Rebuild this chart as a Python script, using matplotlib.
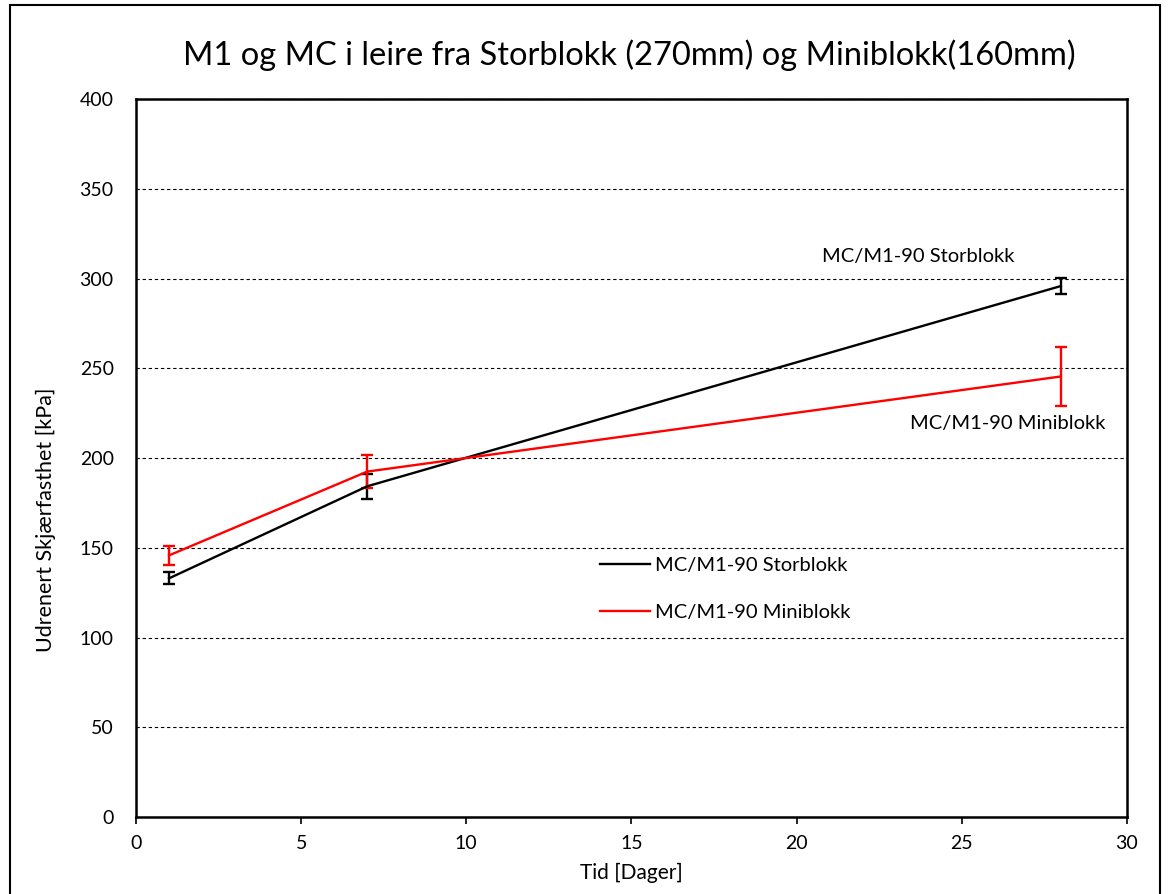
import numpy as np
import matplotlib
matplotlib.use('agg')
from matplotlib import pyplot as plt
from matplotlib.patches import Rectangle
from matplotlib.lines import Line2D

plt.rcParams['font.family'] = ['Lato', 'DejaVu Sans']

# days and undrained shear strength [kPa]
days = [1, 7, 28]
stor_mean = [133.0, 184.3, 295.9]
stor_err = [3.4, 7.1, 4.5]
mini_mean = [145.8, 192.5, 245.5]
mini_err = [5.3, 9.3, 16.5]

label_stor = "MC/M1-90 Storblokk"
label_mini = "MC/M1-90 Miniblokk"
red = '#ff0000'

fig = plt.figure(figsize=(11.69, 8.94), dpi=100)
ax = fig.add_axes([0.1163, 0.0861, 0.8477, 0.8029])

# outer chart frame
fig.patches.append(Rectangle((10 / 1169, -0.05), 1150 / 1169, 1.0 - 5 / 894 + 0.05,
                             transform=fig.transFigure, fill=False,
                             edgecolor='black', linewidth=1.5))

ax.errorbar(days, stor_mean, yerr=stor_err, color='black', lw=1.7,
            capsize=4, capthick=1.7, elinewidth=1.7, zorder=3)
ax.errorbar(days, mini_mean, yerr=mini_err, color=red, lw=1.7,
            capsize=4, capthick=1.7, elinewidth=1.7, zorder=3)

ax.set_xlim(0, 30)
ax.set_ylim(0, 400)
ax.set_xticks(np.arange(0, 31, 5))
ax.set_yticks(np.arange(0, 401, 50))
ax.tick_params(axis='x', direction='out', length=5, width=1.2, labelsize=14, pad=8)
ax.tick_params(axis='y', length=0, labelsize=14, pad=16)
for s in ax.spines.values():
    s.set_linewidth(1.8)

ax.grid(axis='y', color='black', linestyle=(0, (3, 2.5)), linewidth=0.8)
ax.set_axisbelow(True)

ax.set_xlabel("Tid [Dager]", fontsize=15, labelpad=8)
ax.set_ylabel("Udrenert Skjærfasthet [kPa]", fontsize=15.5)
ax.yaxis.set_label_coords(-0.081, 0.414)
fig.text(0.5385, 0.938, "M1 og MC i leire fra Storblokk (270mm) og Miniblokk(160mm)",
         ha='center', va='center', fontsize=23.5)

ax.text(20.77, 312.5, label_stor, fontsize=14.5, va='center', ha='left')
ax.text(23.43, 219.5, label_mini, fontsize=14.5, va='center', ha='left')

handles = [Line2D([], [], color='black', lw=1.7), Line2D([], [], color=red, lw=1.7)]
ax.legend(handles, [label_stor, label_mini], loc='upper left',
          bbox_to_anchor=(0.468, 0.363), frameon=False, borderpad=0,
          borderaxespad=0, fontsize=14.5, handlelength=2.48,
          handletextpad=0.25, labelspacing=1.49)

fig.savefig('out.png', dpi=100)
